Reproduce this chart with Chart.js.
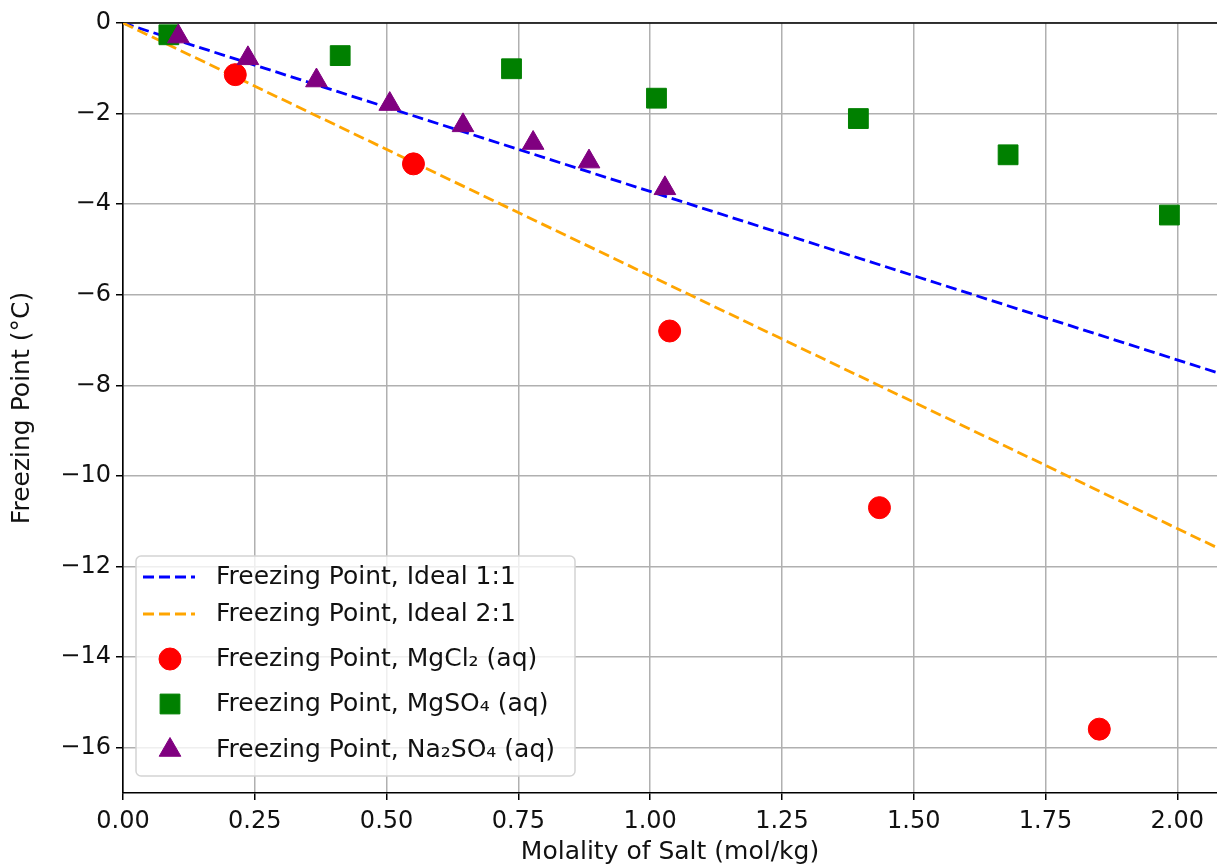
<!DOCTYPE html>
<html>
<head>
<meta charset="utf-8">
<title>Freezing Point vs Molality</title>
<script src="https://cdn.jsdelivr.net/npm/chart.js@4.4.1/dist/chart.umd.min.js"></script>
<style>
  html, body { margin: 0; padding: 0; background: #fff; }
  canvas { display: block; }
</style>
</head>
<body>
<canvas id="fpChart" width="1217" height="865"></canvas>
<script>
// ideal lines (two end points each)
const lineX = [0, 2.1];
const ideal11Y = [0, -7.81];
const ideal21Y = [0, -11.72];

// measured freezing points
const mgcl2X = [0.213, 0.551, 1.037, 1.435, 1.852];
const mgcl2Y = [-1.14, -3.11, -6.80, -10.70, -15.59];
const mgso4X = [0.087, 0.412, 0.737, 1.012, 1.395, 1.679, 1.985];
const mgso4Y = [-0.26, -0.72, -1.01, -1.66, -2.11, -2.91, -4.24];
const na2so4X = [0.105, 0.237, 0.367, 0.506, 0.645, 0.778, 0.884, 1.028];
const na2so4Y = [-0.30, -0.78, -1.27, -1.79, -2.26, -2.65, -3.06, -3.65];

// axis ticks
const xTicks = [0, 0.25, 0.5, 0.75, 1.0, 1.25, 1.5, 1.75, 2.0];
const yTicks = [0, -2, -4, -6, -8, -10, -12, -14, -16];

function toPoints(xs, ys) {
    return xs.map((x, i) => ({x: x, y: ys[i]}));
}

Chart.defaults.font.family = "'DejaVu Sans', sans-serif";
Chart.defaults.font.size = 24;
Chart.defaults.color = '#111';

// top spine + legend frame, drawn like matplotlib
const frameAndLegend = {
    id: 'frameAndLegend',
    beforeDatasetsDraw(chart) {
        const ctx = chart.ctx;
        const a = chart.chartArea;
        ctx.save();
        ctx.strokeStyle = '#000';
        ctx.lineWidth = 1.6;
        ctx.beginPath();
        ctx.moveTo(a.left, a.top);
        ctx.lineTo(a.right, a.top);
        ctx.stroke();
        ctx.restore();
    },
    afterDatasetsDraw(chart) {
        const ctx = chart.ctx;
        const x0 = 136, y0 = 556, w = 439, h = 220;
        ctx.save();
        ctx.beginPath();
        if (ctx.roundRect) ctx.roundRect(x0, y0, w, h, 5);
        else ctx.rect(x0, y0, w, h);
        ctx.fillStyle = 'rgba(255,255,255,0.8)';
        ctx.fill();
        ctx.strokeStyle = '#d4d4d4';
        ctx.lineWidth = 1.5;
        ctx.stroke();

        const rows = [21, 58, 103, 148, 194];
        chart.data.datasets.forEach((ds, i) => {
            const y = y0 + rows[i];
            if (ds.showLine) {
                ctx.save();
                ctx.strokeStyle = ds.borderColor;
                ctx.lineWidth = ds.borderWidth;
                ctx.setLineDash(ds.borderDash);
                ctx.beginPath();
                ctx.moveTo(143, y);
                ctx.lineTo(195, y);
                ctx.stroke();
                ctx.restore();
            } else {
                ctx.fillStyle = ds.backgroundColor;
                ctx.strokeStyle = ds.borderColor;
                ctx.lineWidth = 1;
                Chart.helpers.drawPoint(ctx, {
                    pointStyle: ds.pointStyle,
                    radius: ds.pointRadius,
                    rotation: 0,
                    borderWidth: 1
                }, 170, y);
            }
            ctx.fillStyle = '#111';
            ctx.font = "25px 'DejaVu Sans', sans-serif";
            ctx.textBaseline = 'middle';
            ctx.textAlign = 'left';
            ctx.fillText(ds.label, 216, y);
        });
        ctx.restore();
    }
};

const ctx = document.getElementById('fpChart').getContext('2d');
const fpChart = new Chart(ctx, {
    type: 'scatter',
    data: {
        datasets: [
            {
                label: 'Freezing Point, Ideal 1:1',
                data: toPoints(lineX, ideal11Y),
                showLine: true,
                borderColor: '#0000ff',
                borderWidth: 2.8,
                borderDash: [11, 5],
                pointRadius: 0,
                order: 4
            },
            {
                label: 'Freezing Point, Ideal 2:1',
                data: toPoints(lineX, ideal21Y),
                showLine: true,
                borderColor: '#ffa500',
                borderWidth: 2.8,
                borderDash: [11, 5],
                pointRadius: 0,
                order: 3
            },
            {
                label: 'Freezing Point, MgCl\u2082 (aq)',
                data: toPoints(mgcl2X, mgcl2Y),
                pointStyle: 'circle',
                pointRadius: 11,
                backgroundColor: '#ff0000',
                borderColor: '#ff0000',
                borderWidth: 1,
                order: 2
            },
            {
                label: 'Freezing Point, MgSO\u2084 (aq)',
                data: toPoints(mgso4X, mgso4Y),
                pointStyle: 'rect',
                pointRadius: 14,
                backgroundColor: '#008000',
                borderColor: '#008000',
                borderWidth: 1,
                order: 1
            },
            {
                label: 'Freezing Point, Na\u2082SO\u2084 (aq)',
                data: toPoints(na2so4X, na2so4Y),
                pointStyle: 'triangle',
                pointRadius: 12.5,
                backgroundColor: '#800080',
                borderColor: '#800080',
                borderWidth: 1,
                order: 0
            }
        ]
    },
    options: {
        responsive: false,
        animation: false,
        devicePixelRatio: 1,
        layout: {
            autoPadding: false,
            padding: {top: 23, right: 0, left: 0, bottom: 0}
        },
        plugins: {
            legend: {display: false},
            tooltip: {enabled: false}
        },
        scales: {
            x: {
                type: 'linear',
                min: 0,
                max: 2.0753,
                afterBuildTicks: (scale) => {
                    scale.ticks = xTicks.map(v => ({value: v}));
                },
                afterFit: (scale) => {
                    scale.height = 72;
                    scale.paddingRight = 0;
                },
                ticks: {
                    padding: 7,
                    color: '#111',
                    maxRotation: 0,
                    callback: (v) => Number(v).toFixed(2)
                },
                grid: {
                    color: '#b0b0b0',
                    lineWidth: 1.5,
                    tickColor: '#000',
                    tickLength: 7,
                    tickWidth: 1.5
                },
                border: {display: true, color: '#000', width: 1.6},
                title: {
                    display: true,
                    text: 'Molality of Salt (mol/kg)',
                    color: '#111',
                    font: {size: 25, lineHeight: 1},
                    padding: {top: 0, bottom: 0}
                }
            },
            y: {
                type: 'linear',
                min: -17,
                max: 0,
                afterBuildTicks: (scale) => {
                    scale.ticks = yTicks.map(v => ({value: v}));
                },
                afterFit: (scale) => { scale.width = 123; },
                ticks: {
                    padding: 5,
                    color: '#111',
                    callback: (v) => v === 0 ? '0' : '\u2212' + Math.abs(v)
                },
                grid: {
                    color: '#b0b0b0',
                    lineWidth: 1.5,
                    tickColor: '#000',
                    tickLength: 7,
                    tickWidth: 1.5
                },
                border: {display: true, color: '#000', width: 1.6},
                title: {
                    display: true,
                    text: 'Freezing Point (\u00b0C)',
                    color: '#111',
                    font: {size: 25, lineHeight: 1},
                    padding: {top: 10, bottom: 0}
                }
            }
        }
    },
    plugins: [frameAndLegend]
});
</script>
</body>
</html>
